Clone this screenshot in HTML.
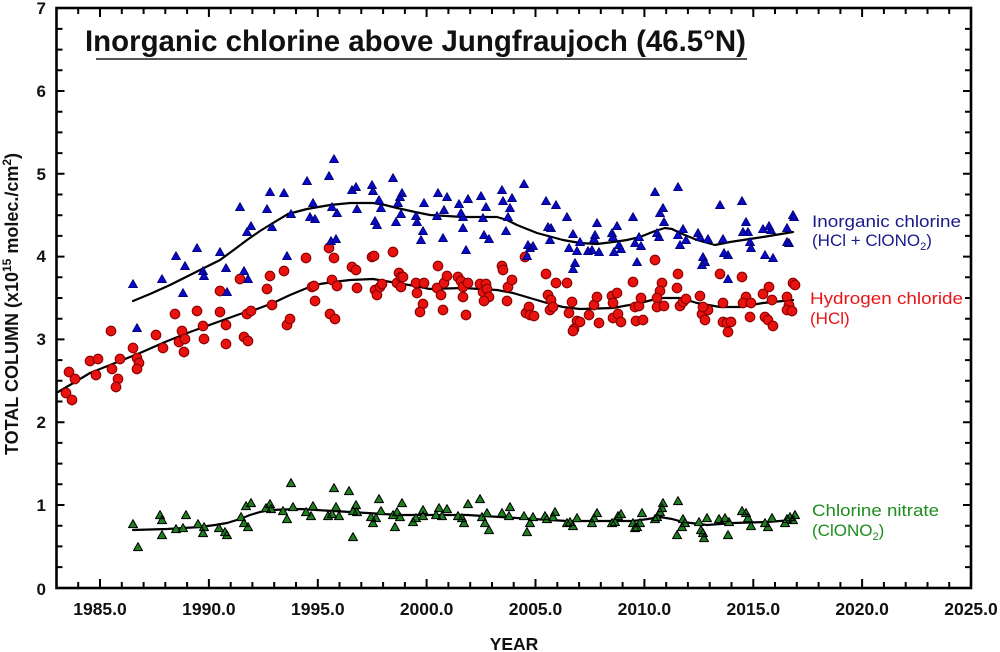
<!DOCTYPE html>
<html><head><meta charset="utf-8"><style>
html,body{margin:0;padding:0;background:#fff;}
svg{display:block;}
text{font-family:"Liberation Sans",Arial,sans-serif;}
</style></head><body>
<svg width="1000" height="652" viewBox="0 0 1000 652" xmlns="http://www.w3.org/2000/svg">
<rect width="1000" height="652" fill="#fff"/>

<!-- title -->
<text x="85" y="51" font-size="30" font-weight="bold" fill="#111" textLength="661" lengthAdjust="spacingAndGlyphs">Inorganic chlorine above Jungfraujoch (46.5°N)</text>
<line x1="96" y1="59" x2="747" y2="59" stroke="#555" stroke-width="2"/>

<!-- curves -->
<g fill="none" stroke="#000" stroke-width="2.2" stroke-linejoin="round" stroke-linecap="round">
<path d="M133,301 L150,294 L170,285 L200,270 L220,260 L235,249 L247,240 L260,231 L273,223 L288,214 L307,209 L330,205 L350,203 L373,203 L385,205 L397,208 L415,212 L430,215 L463,217 L497,217 L507,220 L517,225 L537,233 L563,240 L580,243 L597,244 L613,242 L627,240 L640,237 L655,231 L665,228 L672,229 L680,233 L697,240 L715,245 L730,242 L763,237 L793,232"/>
<path d="M58,392 L75,382 L90,373 L115,363 L140,353 L165,342 L190,332 L215,323 L240,314 L257,309 L273,303 L290,295 L307,288 L320,284 L333,282 L350,280 L373,279 L397,283 L415,286 L430,289 L463,288 L497,290 L513,293 L530,298 L547,303 L563,307 L580,309 L613,308 L640,303 L652,300 L663,298 L680,298 L697,303 L720,307 L740,307 L763,303 L793,300"/>
<path d="M133,530 L167,529 L200,527 L215,525 L227,523 L240,519 L250,515 L260,512 L270,510 L300,509 L333,511 L367,513 L400,515 L433,515 L467,515 L500,517 L533,519 L567,521 L600,521 L633,521 L648,519 L660,517 L672,519 L683,522 L707,525 L733,523 L767,522 L793,520"/>
</g>

<!-- red circles -->
<g fill="#e8120f" stroke="#8a0000" stroke-width="1.1">
<circle cx="66" cy="393" r="4.8"/><circle cx="72" cy="400" r="4.8"/><circle cx="69" cy="372" r="4.8"/><circle cx="75" cy="379" r="4.8"/>
<circle cx="90" cy="361" r="4.8"/><circle cx="98" cy="359" r="4.8"/><circle cx="96" cy="375" r="4.8"/><circle cx="111" cy="331" r="4.8"/>
<circle cx="112" cy="369" r="4.8"/><circle cx="118" cy="379" r="4.8"/><circle cx="116" cy="387" r="4.8"/><circle cx="120" cy="359" r="4.8"/>
<circle cx="133" cy="348" r="4.8"/><circle cx="137" cy="358" r="4.8"/><circle cx="139" cy="363" r="4.8"/><circle cx="137" cy="369" r="4.8"/>
<circle cx="156" cy="335" r="4.8"/><circle cx="163" cy="348" r="4.8"/><circle cx="175" cy="314" r="4.8"/><circle cx="182" cy="331" r="4.8"/>
<circle cx="179" cy="342" r="4.8"/><circle cx="185" cy="339" r="4.8"/><circle cx="184" cy="352" r="4.8"/><circle cx="197" cy="311" r="4.8"/>
<circle cx="203" cy="326" r="4.8"/><circle cx="204" cy="339" r="4.8"/><circle cx="220" cy="312" r="4.8"/><circle cx="220" cy="291" r="4.8"/>
<circle cx="226" cy="325" r="4.8"/><circle cx="226" cy="344" r="4.8"/><circle cx="240" cy="279" r="4.8"/><circle cx="244" cy="337" r="4.8"/>
<circle cx="248" cy="341" r="4.8"/><circle cx="247" cy="314" r="4.8"/><circle cx="251" cy="311" r="4.8"/><circle cx="267" cy="289" r="4.8"/>
<circle cx="270" cy="276" r="4.8"/><circle cx="272" cy="305" r="4.8"/><circle cx="284" cy="271" r="4.8"/><circle cx="287" cy="325" r="4.8"/>
<circle cx="290" cy="319" r="4.8"/><circle cx="306" cy="258" r="4.8"/><circle cx="312" cy="287" r="4.8"/><circle cx="314" cy="286" r="4.8"/>
<circle cx="315" cy="301" r="4.8"/><circle cx="329" cy="248" r="4.8"/><circle cx="334" cy="258" r="4.8"/><circle cx="332" cy="280" r="4.8"/>
<circle cx="330" cy="314" r="4.8"/><circle cx="335" cy="319" r="4.8"/><circle cx="337" cy="286" r="4.8"/>
<circle cx="352" cy="267" r="4.8"/><circle cx="356" cy="270" r="4.8"/><circle cx="357" cy="288" r="4.8"/><circle cx="372" cy="257" r="4.8"/>
<circle cx="374" cy="256" r="4.8"/><circle cx="375" cy="290" r="4.8"/><circle cx="377" cy="295" r="4.8"/><circle cx="380" cy="287" r="4.8"/>
<circle cx="382" cy="284" r="4.8"/><circle cx="393" cy="252" r="4.8"/><circle cx="397" cy="283" r="4.8"/><circle cx="399" cy="273" r="4.8"/>
<circle cx="401" cy="277" r="4.8"/><circle cx="403" cy="277" r="4.8"/><circle cx="401" cy="287" r="4.8"/><circle cx="416" cy="283" r="4.8"/>
<circle cx="417" cy="293" r="4.8"/><circle cx="423" cy="304" r="4.8"/><circle cx="420" cy="312" r="4.8"/><circle cx="424" cy="283" r="4.8"/>
<circle cx="438" cy="266" r="4.8"/><circle cx="437" cy="288" r="4.8"/><circle cx="441" cy="295" r="4.8"/><circle cx="444" cy="283" r="4.8"/>
<circle cx="447" cy="276" r="4.8"/><circle cx="443" cy="310" r="4.8"/><circle cx="458" cy="277" r="4.8"/><circle cx="461" cy="281" r="4.8"/>
<circle cx="463" cy="287" r="4.8"/><circle cx="463" cy="297" r="4.8"/><circle cx="466" cy="315" r="4.8"/><circle cx="468" cy="283" r="4.8"/>
<circle cx="480" cy="284" r="4.8"/><circle cx="483" cy="292" r="4.8"/><circle cx="486" cy="284" r="4.8"/><circle cx="487" cy="289" r="4.8"/>
<circle cx="489" cy="297" r="4.8"/><circle cx="484" cy="301" r="4.8"/><circle cx="502" cy="266" r="4.8"/><circle cx="503" cy="270" r="4.8"/>
<circle cx="507" cy="301" r="4.8"/><circle cx="508" cy="287" r="4.8"/><circle cx="512" cy="280" r="4.8"/><circle cx="526" cy="313" r="4.8"/>
<circle cx="529" cy="307" r="4.8"/><circle cx="530" cy="315" r="4.8"/><circle cx="534" cy="316" r="4.8"/><circle cx="525" cy="257" r="4.8"/>
<circle cx="546" cy="274" r="4.8"/><circle cx="548" cy="295" r="4.8"/><circle cx="551" cy="300" r="4.8"/><circle cx="550" cy="310" r="4.8"/>
<circle cx="553" cy="307" r="4.8"/><circle cx="556" cy="283" r="4.8"/><circle cx="567" cy="283" r="4.8"/><circle cx="569" cy="313" r="4.8"/>
<circle cx="572" cy="302" r="4.8"/><circle cx="577" cy="321" r="4.8"/><circle cx="574" cy="329" r="4.8"/><circle cx="573" cy="331" r="4.8"/>
<circle cx="589" cy="315" r="4.8"/>
<circle cx="580" cy="322" r="4.8"/><circle cx="594" cy="305" r="4.8"/><circle cx="597" cy="297" r="4.8"/><circle cx="599" cy="323" r="4.8"/>
<circle cx="612" cy="296" r="4.8"/><circle cx="613" cy="303" r="4.8"/><circle cx="617" cy="293" r="4.8"/><circle cx="613" cy="318" r="4.8"/>
<circle cx="618" cy="314" r="4.8"/><circle cx="621" cy="322" r="4.8"/><circle cx="633" cy="282" r="4.8"/><circle cx="636" cy="321" r="4.8"/>
<circle cx="643" cy="320" r="4.8"/><circle cx="635" cy="307" r="4.8"/><circle cx="639" cy="306" r="4.8"/><circle cx="641" cy="298" r="4.8"/>
<circle cx="655" cy="260" r="4.8"/><circle cx="662" cy="283" r="4.8"/><circle cx="660" cy="291" r="4.8"/><circle cx="657" cy="298" r="4.8"/>
<circle cx="657" cy="307" r="4.8"/><circle cx="664" cy="306" r="4.8"/><circle cx="678" cy="274" r="4.8"/><circle cx="677" cy="288" r="4.8"/>
<circle cx="680" cy="306" r="4.8"/><circle cx="683" cy="302" r="4.8"/><circle cx="686" cy="299" r="4.8"/><circle cx="700" cy="296" r="4.8"/>
<circle cx="702" cy="314" r="4.8"/><circle cx="705" cy="320" r="4.8"/><circle cx="708" cy="310" r="4.8"/><circle cx="703" cy="307" r="4.8"/>
<circle cx="720" cy="274" r="4.8"/><circle cx="723" cy="303" r="4.8"/><circle cx="723" cy="322" r="4.8"/><circle cx="727" cy="323" r="4.8"/>
<circle cx="728" cy="332" r="4.8"/><circle cx="731" cy="322" r="4.8"/><circle cx="742" cy="277" r="4.8"/><circle cx="746" cy="297" r="4.8"/>
<circle cx="743" cy="303" r="4.8"/><circle cx="751" cy="303" r="4.8"/><circle cx="750" cy="317" r="4.8"/><circle cx="763" cy="294" r="4.8"/>
<circle cx="765" cy="317" r="4.8"/><circle cx="769" cy="287" r="4.8"/><circle cx="772" cy="300" r="4.8"/><circle cx="768" cy="320" r="4.8"/>
<circle cx="773" cy="326" r="4.8"/><circle cx="787" cy="297" r="4.8"/><circle cx="789" cy="305" r="4.8"/><circle cx="787" cy="310" r="4.8"/>
<circle cx="792" cy="311" r="4.8"/><circle cx="793" cy="283" r="4.8"/><circle cx="795" cy="285" r="4.8"/>
</g>

<!-- blue triangles -->
<path transform="translate(-0.5,0.6)" fill="#0a0ac4" stroke="#00006e" stroke-width="0.8" stroke-linejoin="round" d="
M129,287l4.5,-8l4.5,8z M133,331l4.5,-8l4.5,8z M158,282l4.5,-8l4.5,8z M172,259l4.5,-8l4.5,8z M181,269l4.5,-8l4.5,8z M179,296l4.5,-8l4.5,8z
M193,251l4.5,-8l4.5,8z M199,274l4.5,-8l4.5,8z M200,279l4.5,-8l4.5,8z M216,255l4.5,-8l4.5,8z M222,271l4.5,-8l4.5,8z M223,295l4.5,-8l4.5,8z
M236,210l4.5,-8l4.5,8z M240,274l4.5,-8l4.5,8z M244,282l4.5,-8l4.5,8z M243,235l4.5,-8l4.5,8z M247,229l4.5,-8l4.5,8z M263,212l4.5,-8l4.5,8z
M266,195l4.5,-8l4.5,8z M268,230l4.5,-8l4.5,8z M280,196l4.5,-8l4.5,8z M283,259l4.5,-8l4.5,8z M287,217l4.5,-8l4.5,8z M303,184l4.5,-8l4.5,8z
M309,206l4.5,-8l4.5,8z M306,220l4.5,-8l4.5,8z M311,222l4.5,-8l4.5,8z M325,179l4.5,-8l4.5,8z M330,162l4.5,-8l4.5,8z M328,210l4.5,-8l4.5,8z
M333,216l4.5,-8l4.5,8z M327,244l4.5,-8l4.5,8z M332,242l4.5,-8l4.5,8z
M348,193l4.5,-8l4.5,8z M352,190l4.5,-8l4.5,8z M353,212l4.5,-8l4.5,8z M368,188l4.5,-8l4.5,8z M369,194l4.5,-8l4.5,8z M371,224l4.5,-8l4.5,8z
M373,228l4.5,-8l4.5,8z M375,203l4.5,-8l4.5,8z M377,211l4.5,-8l4.5,8z M389,181l4.5,-8l4.5,8z M392,225l4.5,-8l4.5,8z M394,206l4.5,-8l4.5,8z
M396,200l4.5,-8l4.5,8z M398,196l4.5,-8l4.5,8z M397,217l4.5,-8l4.5,8z M412,219l4.5,-8l4.5,8z M413,225l4.5,-8l4.5,8z M419,234l4.5,-8l4.5,8z
M417,243l4.5,-8l4.5,8z M420,206l4.5,-8l4.5,8z M434,196l4.5,-8l4.5,8z M433,219l4.5,-8l4.5,8z M440,213l4.5,-8l4.5,8z M443,200l4.5,-8l4.5,8z
M439,241l4.5,-8l4.5,8z M455,207l4.5,-8l4.5,8z M457,216l4.5,-8l4.5,8z M459,220l4.5,-8l4.5,8z M459,231l4.5,-8l4.5,8z M462,253l4.5,-8l4.5,8z
M464,202l4.5,-8l4.5,8z M477,199l4.5,-8l4.5,8z M479,221l4.5,-8l4.5,8z M482,210l4.5,-8l4.5,8z M480,238l4.5,-8l4.5,8z M485,242l4.5,-8l4.5,8z
M498,193l4.5,-8l4.5,8z M499,204l4.5,-8l4.5,8z M502,234l4.5,-8l4.5,8z M506,211l4.5,-8l4.5,8z M508,201l4.5,-8l4.5,8z M504,220l4.5,-8l4.5,8z
M520,187l4.5,-8l4.5,8z M524,248l4.5,-8l4.5,8z M526,251l4.5,-8l4.5,8z M529,249l4.5,-8l4.5,8z M523,259l4.5,-8l4.5,8z M542,204l4.5,-8l4.5,8z
M544,230l4.5,-8l4.5,8z M547,231l4.5,-8l4.5,8z M546,243l4.5,-8l4.5,8z M552,208l4.5,-8l4.5,8z M563,220l4.5,-8l4.5,8z M565,251l4.5,-8l4.5,8z
M569,237l4.5,-8l4.5,8z M573,254l4.5,-8l4.5,8z M571,266l4.5,-8l4.5,8z M569,272l4.5,-8l4.5,8z M584,254l4.5,-8l4.5,8z
M576,245l4.5,-8l4.5,8z M588,253l4.5,-8l4.5,8z M593,226l4.5,-8l4.5,8z M591,238l4.5,-8l4.5,8z M590,242l4.5,-8l4.5,8z M595,255l4.5,-8l4.5,8z
M608,236l4.5,-8l4.5,8z M609,240l4.5,-8l4.5,8z M610,255l4.5,-8l4.5,8z M613,229l4.5,-8l4.5,8z M615,248l4.5,-8l4.5,8z M617,252l4.5,-8l4.5,8z
M629,220l4.5,-8l4.5,8z M631,246l4.5,-8l4.5,8z M633,265l4.5,-8l4.5,8z M635,240l4.5,-8l4.5,8z M637,249l4.5,-8l4.5,8z M651,195l4.5,-8l4.5,8z
M656,216l4.5,-8l4.5,8z M659,211l4.5,-8l4.5,8z M660,225l4.5,-8l4.5,8z M653,236l4.5,-8l4.5,8z M655,240l4.5,-8l4.5,8z M674,190l4.5,-8l4.5,8z
M674,238l4.5,-8l4.5,8z M676,248l4.5,-8l4.5,8z M679,232l4.5,-8l4.5,8z M682,243l4.5,-8l4.5,8z M694,236l4.5,-8l4.5,8z M696,240l4.5,-8l4.5,8z
M699,260l4.5,-8l4.5,8z M698,268l4.5,-8l4.5,8z M701,265l4.5,-8l4.5,8z M704,242l4.5,-8l4.5,8z M716,208l4.5,-8l4.5,8z M719,242l4.5,-8l4.5,8z
M720,256l4.5,-8l4.5,8z M724,258l4.5,-8l4.5,8z M724,282l4.5,-8l4.5,8z M738,204l4.5,-8l4.5,8z M742,225l4.5,-8l4.5,8z M739,235l4.5,-8l4.5,8z
M744,235l4.5,-8l4.5,8z M746,245l4.5,-8l4.5,8z M747,251l4.5,-8l4.5,8z M759,232l4.5,-8l4.5,8z M761,258l4.5,-8l4.5,8z M765,229l4.5,-8l4.5,8z
M767,233l4.5,-8l4.5,8z M769,261l4.5,-8l4.5,8z M783,231l4.5,-8l4.5,8z M783,245l4.5,-8l4.5,8z M789,218l4.5,-8l4.5,8z M790,220l4.5,-8l4.5,8z
M785,246l4.5,-8l4.5,8z"/>

<!-- green triangles -->
<path transform="translate(-0.5,0.6)" fill="#1d7f1d" stroke="#000" stroke-width="1" stroke-linejoin="round" d="
M129,527l4.5,-8l4.5,8z M134,550l4.5,-8l4.5,8z M156,518l4.5,-8l4.5,8z M158,523l4.5,-8l4.5,8z M158,538l4.5,-8l4.5,8z M172,532l4.5,-8l4.5,8z
M179,531l4.5,-8l4.5,8z M182,518l4.5,-8l4.5,8z M194,527l4.5,-8l4.5,8z M200,530l4.5,-8l4.5,8z M199,536l4.5,-8l4.5,8z M215,531l4.5,-8l4.5,8z
M221,535l4.5,-8l4.5,8z M223,538l4.5,-8l4.5,8z M237,520l4.5,-8l4.5,8z M240,526l4.5,-8l4.5,8z M244,530l4.5,-8l4.5,8z M242,509l4.5,-8l4.5,8z
M247,506l4.5,-8l4.5,8z M262,511l4.5,-8l4.5,8z M266,507l4.5,-8l4.5,8z M267,512l4.5,-8l4.5,8z M279,514l4.5,-8l4.5,8z M283,522l4.5,-8l4.5,8z
M287,486l4.5,-8l4.5,8z M289,510l4.5,-8l4.5,8z M302,515l4.5,-8l4.5,8z M307,519l4.5,-8l4.5,8z M309,509l4.5,-8l4.5,8z M324,519l4.5,-8l4.5,8z
M328,517l4.5,-8l4.5,8z M330,491l4.5,-8l4.5,8z M332,510l4.5,-8l4.5,8z M335,519l4.5,-8l4.5,8z M345,494l4.5,-8l4.5,8z M349,514l4.5,-8l4.5,8z
M349,540l4.5,-8l4.5,8z M352,508l4.5,-8l4.5,8z M353,515l4.5,-8l4.5,8z M367,520l4.5,-8l4.5,8z M369,526l4.5,-8l4.5,8z M372,521l4.5,-8l4.5,8z
M375,502l4.5,-8l4.5,8z M377,514l4.5,-8l4.5,8z M389,518l4.5,-8l4.5,8z M391,530l4.5,-8l4.5,8z M393,515l4.5,-8l4.5,8z M396,520l4.5,-8l4.5,8z
M398,506l4.5,-8l4.5,8z M409,525l4.5,-8l4.5,8z M412,521l4.5,-8l4.5,8z M419,513l4.5,-8l4.5,8z M419,519l4.5,-8l4.5,8z M432,518l4.5,-8l4.5,8z
M435,511l4.5,-8l4.5,8z M438,519l4.5,-8l4.5,8z M443,512l4.5,-8l4.5,8z M454,519l4.5,-8l4.5,8z M458,521l4.5,-8l4.5,8z M460,526l4.5,-8l4.5,8z
M464,507l4.5,-8l4.5,8z M476,502l4.5,-8l4.5,8z M478,520l4.5,-8l4.5,8z M481,526l4.5,-8l4.5,8z M483,516l4.5,-8l4.5,8z M485,533l4.5,-8l4.5,8z
M498,516l4.5,-8l4.5,8z M506,510l4.5,-8l4.5,8z M505,519l4.5,-8l4.5,8z M520,519l4.5,-8l4.5,8z M523,535l4.5,-8l4.5,8z M526,526l4.5,-8l4.5,8z
M529,520l4.5,-8l4.5,8z M541,519l4.5,-8l4.5,8z M543,522l4.5,-8l4.5,8z M551,515l4.5,-8l4.5,8z M549,520l4.5,-8l4.5,8z M563,526l4.5,-8l4.5,8z
M566,525l4.5,-8l4.5,8z M569,529l4.5,-8l4.5,8z M573,521l4.5,-8l4.5,8z M588,526l4.5,-8l4.5,8z M590,521l4.5,-8l4.5,8z M593,516l4.5,-8l4.5,8z
M608,526l4.5,-8l4.5,8z M611,525l4.5,-8l4.5,8z M614,519l4.5,-8l4.5,8z M617,517l4.5,-8l4.5,8z M629,526l4.5,-8l4.5,8z M631,531l4.5,-8l4.5,8z
M633,530l4.5,-8l4.5,8z M638,516l4.5,-8l4.5,8z M636,526l4.5,-8l4.5,8z M651,522l4.5,-8l4.5,8z M653,520l4.5,-8l4.5,8z M656,515l4.5,-8l4.5,8z
M658,511l4.5,-8l4.5,8z M659,506l4.5,-8l4.5,8z M674,504l4.5,-8l4.5,8z M673,538l4.5,-8l4.5,8z M678,530l4.5,-8l4.5,8z M679,522l4.5,-8l4.5,8z
M681,526l4.5,-8l4.5,8z M695,525l4.5,-8l4.5,8z M697,533l4.5,-8l4.5,8z M700,541l4.5,-8l4.5,8z M699,536l4.5,-8l4.5,8z M703,521l4.5,-8l4.5,8z
M715,522l4.5,-8l4.5,8z M721,521l4.5,-8l4.5,8z M724,538l4.5,-8l4.5,8z M725,525l4.5,-8l4.5,8z M738,514l4.5,-8l4.5,8z M742,516l4.5,-8l4.5,8z
M744,521l4.5,-8l4.5,8z M747,529l4.5,-8l4.5,8z M761,526l4.5,-8l4.5,8z M764,530l4.5,-8l4.5,8z M768,521l4.5,-8l4.5,8z M781,526l4.5,-8l4.5,8z
M783,522l4.5,-8l4.5,8z M786,520l4.5,-8l4.5,8z M789,523l4.5,-8l4.5,8z M791,518l4.5,-8l4.5,8z"/>

<!-- axes frame -->
<rect x="56.5" y="8" width="914.5" height="580" fill="none" stroke="#000" stroke-width="2.6"/>

<!-- bottom/top ticks -->
<path stroke="#000" stroke-width="2" fill="none" d="
M78.2,588v-6 M100,588v-9 M121.8,588v-6 M143.6,588v-6 M165.3,588v-6 M187.1,588v-6 M208.9,588v-9 M230.7,588v-6 M252.4,588v-6 M274.2,588v-6 M296,588v-6
M317.8,588v-9 M339.5,588v-6 M361.3,588v-6 M383.1,588v-6 M404.9,588v-6 M426.6,588v-9 M448.4,588v-6 M470.2,588v-6 M492,588v-6 M513.7,588v-6
M535.5,588v-9 M557.3,588v-6 M579.1,588v-6 M600.8,588v-6 M622.6,588v-6 M644.4,588v-9 M666.2,588v-6 M687.9,588v-6 M709.7,588v-6 M731.5,588v-6
M753.3,588v-9 M775,588v-6 M796.8,588v-6 M818.6,588v-6 M840.4,588v-6 M862.1,588v-9 M883.9,588v-6 M905.7,588v-6 M927.5,588v-6 M949.2,588v-6
M78.2,8v6 M100,8v9 M121.8,8v6 M143.6,8v6 M165.3,8v6 M187.1,8v6 M208.9,8v9 M230.7,8v6 M252.4,8v6 M274.2,8v6 M296,8v6
M317.8,8v9 M339.5,8v6 M361.3,8v6 M383.1,8v6 M404.9,8v6 M426.6,8v9 M448.4,8v6 M470.2,8v6 M492,8v6 M513.7,8v6
M535.5,8v9 M557.3,8v6 M579.1,8v6 M600.8,8v6 M622.6,8v6 M644.4,8v9 M666.2,8v6 M687.9,8v6 M709.7,8v6 M731.5,8v6
M753.3,8v9 M775,8v6 M796.8,8v6 M818.6,8v6 M840.4,8v6 M862.1,8v9 M883.9,8v6 M905.7,8v6 M927.5,8v6 M949.2,8v6
"/>
<!-- left/right ticks -->
<path stroke="#000" stroke-width="2" fill="none" d="
M56.5,567.1h6 M56.5,546.4h6 M56.5,525.7h6 M56.5,505h8 M56.5,484.3h6 M56.5,463.6h6 M56.5,442.9h6 M56.5,422.2h8
M56.5,401.5h6 M56.5,380.8h6 M56.5,360.1h6 M56.5,339.4h8 M56.5,318.7h6 M56.5,298h6 M56.5,277.3h6 M56.5,256.6h8
M56.5,235.9h6 M56.5,215.2h6 M56.5,194.5h6 M56.5,173.8h8 M56.5,153.1h6 M56.5,132.4h6 M56.5,111.7h6 M56.5,91h8
M56.5,70.3h6 M56.5,49.6h6 M56.5,28.9h6
M971,567.1h-6 M971,546.4h-6 M971,525.7h-6 M971,505h-8 M971,484.3h-6 M971,463.6h-6 M971,442.9h-6 M971,422.2h-8
M971,401.5h-6 M971,380.8h-6 M971,360.1h-6 M971,339.4h-8 M971,318.7h-6 M971,298h-6 M971,277.3h-6 M971,256.6h-8
M971,235.9h-6 M971,215.2h-6 M971,194.5h-6 M971,173.8h-8 M971,153.1h-6 M971,132.4h-6 M971,111.7h-6 M971,91h-8
M971,70.3h-6 M971,49.6h-6 M971,28.9h-6
"/>

<!-- y tick labels -->
<g font-size="17" font-weight="bold" fill="#111" text-anchor="end">
<text x="46" y="595">0</text>
<text x="46" y="511">1</text>
<text x="46" y="428">2</text>
<text x="46" y="345">3</text>
<text x="46" y="262">4</text>
<text x="46" y="180">5</text>
<text x="46" y="97">6</text>
<text x="46" y="14">7</text>
</g>

<!-- x tick labels -->
<g font-size="17.5" font-weight="bold" fill="#111" text-anchor="middle">
<text x="100" y="615">1985.0</text>
<text x="208.9" y="615">1990.0</text>
<text x="317.8" y="615">1995.0</text>
<text x="426.6" y="615">2000.0</text>
<text x="535.5" y="615">2005.0</text>
<text x="644.4" y="615">2010.0</text>
<text x="753.3" y="615">2015.0</text>
<text x="862.1" y="615">2020.0</text>
<text x="971" y="615">2025.0</text>
</g>

<!-- axis titles -->
<text x="514" y="650" font-size="17.5" font-weight="bold" fill="#111" text-anchor="middle">YEAR</text>
<text transform="translate(18,304) rotate(-90)" font-size="18" font-weight="bold" fill="#111" text-anchor="middle">TOTAL COLUMN (x10<tspan font-size="12" dy="-7">15</tspan><tspan dy="7"> molec./cm</tspan><tspan font-size="12" dy="-7">2</tspan><tspan dy="7">)</tspan></text>

<!-- series labels -->
<g font-size="17">
<text x="812" y="227" fill="#1a1a8a" textLength="149" lengthAdjust="spacingAndGlyphs">Inorganic chlorine</text>
<text x="812" y="246" fill="#1a1a8a">(HCl + ClONO<tspan font-size="11" dy="4">2</tspan><tspan dy="-4">)</tspan></text>
<text x="810" y="304" fill="#e81414" textLength="153" lengthAdjust="spacingAndGlyphs">Hydrogen chloride</text>
<text x="810" y="324" fill="#e81414">(HCl)</text>
<text x="812" y="516" fill="#1e8c1e" textLength="127" lengthAdjust="spacingAndGlyphs">Chlorine nitrate</text>
<text x="812" y="536" fill="#1e8c1e">(ClONO<tspan font-size="11" dy="4">2</tspan><tspan dy="-4">)</tspan></text>
</g>
</svg>
</body></html>
